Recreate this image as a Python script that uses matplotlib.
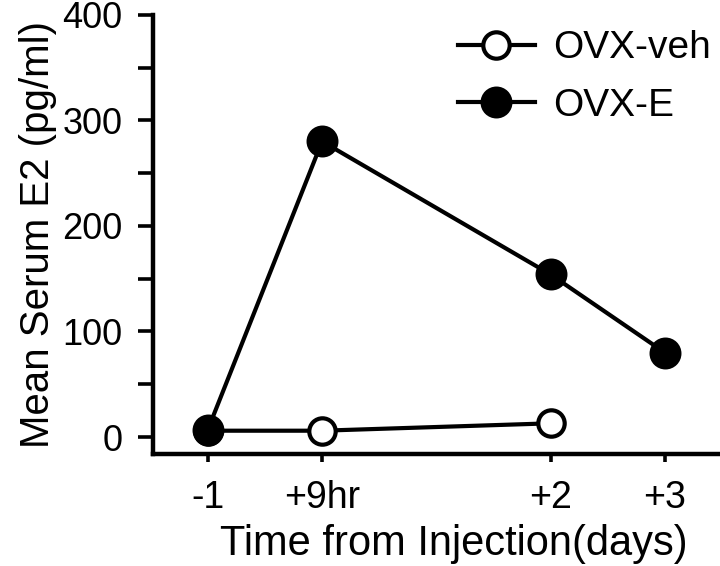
import matplotlib

matplotlib.use("Agg")
import matplotlib.pyplot as plt
from matplotlib.ticker import FuncFormatter, MultipleLocator

# sampling times (positions on the time axis) and their labels
time_pos = [0, 1, 3, 4]
time_labels = ["-1", "+9hr", "+2", "+3"]

# mean serum E2 (pg/ml)
veh_pos = [0, 1, 3]
veh_e2 = [6, 6, 13]
e_pos = [0, 1, 3, 4]
e_e2 = [7, 280, 154, 80]

INK = "black"

plt.rcParams.update({
    "font.family": ["Liberation Sans", "DejaVu Sans"],
    "font.size": 27,
})

fig = plt.figure(figsize=(7.2, 5.66), dpi=100)
ax = fig.add_axes([0.2125, 0.198, 0.787, 0.776])

ax.plot(veh_pos, veh_e2, color=INK, lw=3, marker="o", ms=19,
        mfc="white", mec=INK, mew=3, label="OVX-veh", zorder=3)
ax.plot(e_pos, e_e2, color=INK, lw=3, marker="o", ms=21,
        mfc=INK, mec=INK, mew=2, label="OVX-E", zorder=4)

ax.set_xlim(-0.48, 4.48)
ax.set_ylim(-16, 400)
ax.set_xticks(time_pos)
ax.set_xticklabels(time_labels)
ax.yaxis.set_major_locator(MultipleLocator(50))
ax.yaxis.set_major_formatter(
    FuncFormatter(lambda v, _: f"{int(v)}" if v % 100 == 0 else ""))

for side in ("top", "right"):
    ax.spines[side].set_visible(False)
for side in ("left", "bottom"):
    ax.spines[side].set_linewidth(3.2)
    ax.spines[side].set_capstyle("projecting")
ax.tick_params(axis="y", length=11, width=2.6, pad=11, labelsize=26)
ax.tick_params(axis="x", length=6, width=2.6, pad=13, labelsize=27)

ax.set_xlabel("Time from Injection(days)", fontsize=30)
ax.set_ylabel("Mean Serum E2 (pg/ml)", fontsize=29, labelpad=4)
ax.xaxis.set_label_coords(0.53, -0.16)

ax.legend(loc="upper left", bbox_to_anchor=(0.51, 1.0), frameon=False,
          fontsize=28, handlelength=2.0, handletextpad=0.45,
          labelspacing=0.55, numpoints=1, borderaxespad=0.0)

fig.savefig("out.png", dpi=100, facecolor="white")
